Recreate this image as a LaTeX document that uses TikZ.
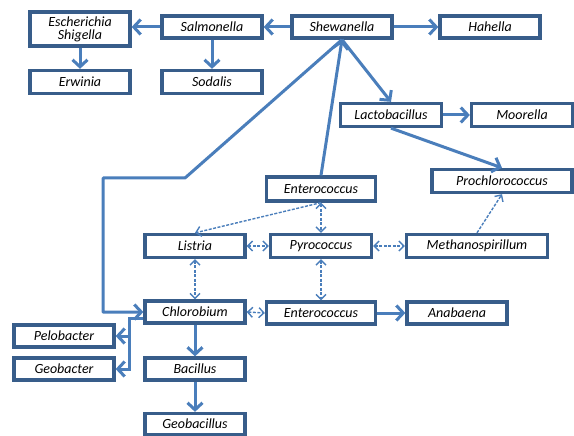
\documentclass[tikz,border=0pt]{standalone}
\usepackage{fontspec}
\setmainfont{Carlito}
\usetikzlibrary{arrows.meta,calc}
\definecolor{boxc}{HTML}{385D8A}
\definecolor{arrc}{HTML}{4A7EBB}
\begin{document}
\begin{tikzpicture}[x=1pt,y=-1pt,
  bx/.style={draw=boxc,line width=3.3pt,fill=white,inner sep=0pt,
    minimum width=100pt,minimum height=22pt,font=\fontsize{14}{14.5}\selectfont\itshape,align=center},
  thick arr/.style={draw=arrc,line width=3pt,-{Straight Barb[length=7pt,width=15pt]}},
  dsh/.style={draw=arrc,line width=1.4pt,dash pattern=on 3pt off 1.5pt},
  dd/.style={dsh,{Straight Barb[length=5pt,width=10pt]}-{Straight Barb[length=5pt,width=10pt]}},
  ds/.style={dsh,-{Straight Barb[length=5pt,width=10pt]}}]
\useasboundingbox (0,0) rectangle (574,436);
\node[bx,minimum height=34pt] (esch) at (80,29) {Escherichia\\[-1.5pt]Shigella};
\node[bx] (salm) at (212,27) {Salmonella};
\node[bx] (shew) at (342,27) {Shewanella};
\node[bx] (hah) at (490,27) {Hahella};
\node[bx,minimum height=23pt] (erw) at (80,82) {Erwinia};
\node[bx,minimum height=23pt] (sod) at (212,82) {Sodalis};
\node[bx,minimum width=101pt,minimum height=23pt] (lacto) at (391,115) {Lactobacillus};
\node[bx,minimum width=101pt,minimum height=23pt] (moor) at (522,115) {Moorella};
\node[bx,minimum width=140pt,minimum height=23pt] (proch) at (502,181) {Prochlorococcus};
\node[bx,minimum width=109pt,minimum height=24pt] (entT) at (321,189) {Enterococcus};
\node[bx,minimum height=23pt] (list) at (195,246) {Listria};
\node[bx,minimum width=101pt,minimum height=23pt] (pyro) at (321,246) {Pyrococcus};
\node[bx,minimum width=141pt,minimum height=23pt] (meth) at (477,246) {Methanospirillum};
\node[bx] (chlor) at (195,312) {Chlorobium};
\node[bx,minimum width=109pt] (entB) at (321,313) {Enterococcus};
\node[bx] (anab) at (457,313) {Anabaena};
\node[bx] (pelo) at (64,336) {Pelobacter};
\node[bx] (geobact) at (64,369) {Geobacter};
\node[bx] (bac) at (195,369) {Bacillus};
\node[bx,minimum height=21pt] (geobac) at (195,424) {Geobacillus};
% thick connectors
\draw[thick arr] (salm.west) -- (salm.west -| esch.east);
\draw[thick arr] (shew.west) -- (salm.east);
\draw[thick arr] (shew.east) -- (hah.west);
\draw[thick arr] (esch.south) -- (erw.north);
\draw[thick arr] (salm.south) -- (sod.north);
\draw[thick arr] (shew.south) -- (lacto.north);
\draw[thick arr] (entT.north) -- (shew.south);
\coordinate (c1) at (185,178);
\coordinate (c2) at (103,178);
\draw[thick arr,line join=round] (shew.south) -- (c1) -- (c2) -- (c2 |- chlor.west) -- (chlor.west);
\draw[thick arr] (lacto.east) -- (moor.west);
\draw[thick arr] (lacto.south) -- (proch.north);
\draw[thick arr] (entB.east) -- (anab.west);
\draw[thick arr] (chlor.south) -- (bac.north);
\draw[thick arr] (bac.south) -- (geobac.north);
\coordinate (c3) at (129,318);
\draw[thick arr] ($(chlor.west)+(0,6)$) -- (c3) -- (c3 |- geobact.east) -- (geobact.east);
\draw[thick arr] (c3 |- pelo.east) -- (pelo.east);
% dashed connectors
\draw[ds] (meth.north) -- (proch.south);
\draw[ds] (entT.south) -- (list.north);
\draw[dd] (entT.south) -- (pyro.north);
\draw[dd] (list.east) -- (pyro.west);
\draw[dd] (pyro.east) -- (meth.west);
\draw[dd] (list.south) -- (chlor.north);
\draw[dd] (pyro.south) -- (entB.north);
\draw[dd] (chlor.east) -- (entB.west);
\end{tikzpicture}
\end{document}
